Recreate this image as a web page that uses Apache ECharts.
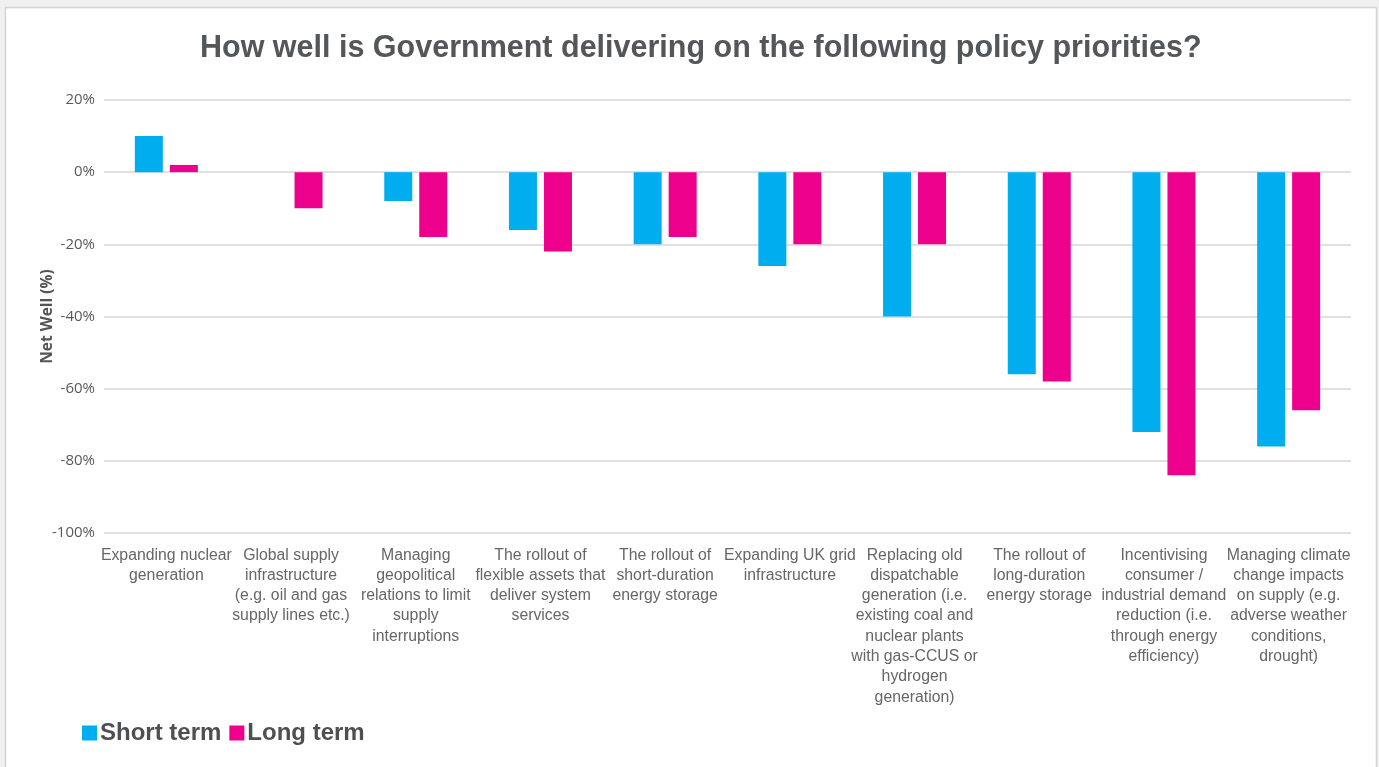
<!DOCTYPE html>
<html>
<head>
<meta charset="utf-8">
<script src="https://cdn.jsdelivr.net/npm/echarts@6/dist/echarts.min.js"></script>
<style>
html,body{margin:0;padding:0;background:#f0f0f0;}
#chart{width:1379px;height:767px;}
</style>
</head>
<body>
<div id="chart"></div>
<script>
var titleText = 'How well is Government delivering on the following policy priorities?';
var categories = [
  'Expanding nuclear\ngeneration',
  'Global supply\ninfrastructure\n(e.g. oil and gas\nsupply lines etc.)',
  'Managing\ngeopolitical\nrelations to limit\nsupply\ninterruptions',
  'The rollout of\nflexible assets that\ndeliver system\nservices',
  'The rollout of\nshort-duration\nenergy storage',
  'Expanding UK grid\ninfrastructure',
  'Replacing old\ndispatchable\ngeneration (i.e.\nexisting coal and\nnuclear plants\nwith gas-CCUS or\nhydrogen\ngeneration)',
  'The rollout of\nlong-duration\nenergy storage',
  'Incentivising\nconsumer /\nindustrial demand\nreduction (i.e.\nthrough energy\nefficiency)',
  'Managing climate\nchange impacts\non supply (e.g.\nadverse weather\nconditions,\ndrought)'
];
var shortTerm = [10, 0, -8, -16, -20, -26, -40, -56, -72, -76];
var longTerm = [2, -10, -18, -22, -18, -20, -20, -58, -84, -66];
var seriesNames = ['Short term', 'Long term'];
var yAxisName = 'Net Well (%)';

var chart = echarts.init(document.getElementById('chart'));
chart.setOption({
  backgroundColor: '#f0f0f0',
  animation: false,
  graphic: [{
    type: 'rect', z: -10, silent: true,
    shape: {x: 5.5, y: 7.5, width: 1371, height: 780},
    style: {fill: '#ffffff', stroke: '#d4d4d4', lineWidth: 1.5}
  }],
  title: {
    text: titleText, left: 195, top: 28,
    textStyle: {fontFamily: 'Liberation Sans, Arial, sans-serif', fontWeight: 'bold', fontSize: 30.5, color: '#53575a'}
  },
  legend: {
    left: 77, top: 716, itemWidth: 15, itemHeight: 15, itemGap: 8, icon: 'rect',
    textStyle: {fontFamily: 'Liberation Sans, Arial, sans-serif', fontWeight: 'bold', fontSize: 24, color: '#4d5053', padding: [0,0,0,-2]}
  },
  grid: {left: 104, right: 28, top: 100, bottom: 234, containLabel: false},
  xAxis: {
    type: 'category', data: categories, position: 'bottom',
    axisLine: {show: false}, axisTick: {show: false},
    axisLabel: {interval: 0, margin: 12, fontFamily: 'Liberation Sans, Arial, sans-serif', fontSize: 15.8, color: '#666666', lineHeight: 20.3, align: 'center', verticalAlign: 'top'}
  },
  yAxis: {
    type: 'value', min: -100, max: 20, interval: 20,
    name: yAxisName, nameLocation: 'middle', nameGap: 48, nameRotate: 90,
    nameMoveOverlap: false,
    nameTextStyle: {fontFamily: 'Open Sans, sans-serif', fontWeight: 'bold', fontSize: 15.5, color: '#555'},
    axisLine: {show: false}, axisTick: {show: false},
    axisLabel: {formatter: '{value}%', fontFamily: 'Open Sans, sans-serif', fontSize: 15, color: '#595959', margin: 9},
    splitLine: {lineStyle: {color: '#d6d6d6', width: 1.5}}
  },
  series: [
    {name: seriesNames[0], type: 'bar', data: shortTerm, barWidth: 28, barGap: '25%', itemStyle: {color: '#00aeef'}},
    {name: seriesNames[1], type: 'bar', data: longTerm, barWidth: 28, itemStyle: {color: '#ec008c'}}
  ]
});
</script>
</body>
</html>
